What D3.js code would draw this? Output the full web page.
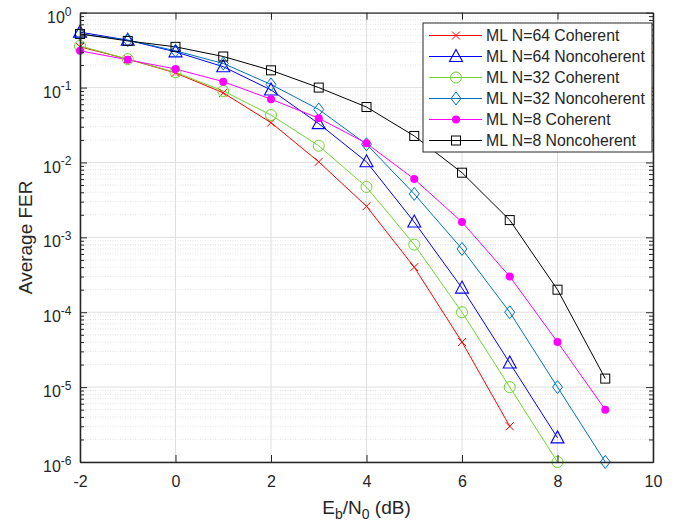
<!DOCTYPE html>
<html>
<head>
<meta charset="utf-8">
<script src="https://cdn.jsdelivr.net/npm/d3@7"></script>
<style>
  body { margin: 0; background: #fff; }
  svg { font-family: "Liberation Sans", Arial, sans-serif; }
</style>
</head>
<body>
<div id="chart"></div>
<script>
// Eb/N0 points and FER curves
const ebn0 = [-2, -1, 0, 1, 2, 3, 4, 5, 6, 7, 8, 9];

const n64Coherent    = [0.35, 0.24, 0.157, 0.085, 0.034, 0.0102, 0.0026, 4e-4, 4e-5, 3e-6];
const n64Noncoherent = [0.55, 0.43, 0.30, 0.19, 0.093, 0.033, 0.0102, 0.0016, 2.1e-4, 2.1e-5, 2.1e-6];
const n32Coherent    = [0.36, 0.24, 0.16, 0.09, 0.043, 0.0167, 0.0047, 8e-4, 1e-4, 1e-5, 1e-6];
const n32Noncoherent = [0.52, 0.43, 0.31, 0.21, 0.11, 0.051, 0.0175, 0.0038, 7e-4, 1e-4, 1e-5, 1e-6];
const n8Coherent     = [0.31, 0.235, 0.177, 0.12, 0.07, 0.039, 0.018, 0.006, 0.0016, 3e-4, 4e-5, 5e-6];
const n8Noncoherent  = [0.52, 0.42, 0.35, 0.26, 0.17, 0.10, 0.055, 0.0226, 0.0073, 0.0017, 2e-4, 1.3e-5];

const seriesNames = ["ML N=64 Coherent", "ML N=64 Noncoherent", "ML N=32 Coherent",
                     "ML N=32 Noncoherent", "ML N=8 Coherent", "ML N=8 Noncoherent"];
const seriesValues = [n64Coherent, n64Noncoherent, n32Coherent, n32Noncoherent, n8Coherent, n8Noncoherent];
const seriesColors = ["#ff0000", "#0000ff", "#6fd62e", "#0072bd", "#ff00ff", "#000000"];
const seriesMarkers = ["cross", "triangle", "circle", "diamond", "dot", "square"];

const xTicks = [-2, 0, 2, 4, 6, 8, 10];
const yExponents = [0, -1, -2, -3, -4, -5, -6];

const W = 689, H = 522;
const margin = { top: 12.7, right: 36, bottom: 60, left: 80 };
const width = W - margin.left - margin.right;
const height = H - margin.top - margin.bottom;
const axisColor = "#262626";

const svg = d3.select("#chart").append("svg")
    .attr("width", W)
    .attr("height", H);

const g = svg.append("g")
    .attr("transform", "translate(" + margin.left + "," + margin.top + ")");

const x = d3.scaleLinear().domain([-2, 10]).range([0, width]);
const y = d3.scaleLog().domain([1e-6, 1]).range([height, 0]);

// minor y values 2..9 x 10^k
let minorY = [];
for (let k = -6; k < 0; k++) {
    for (let m = 2; m <= 9; m++) minorY.push(m * Math.pow(10, k));
}

// grid
g.append("g").selectAll("line.minor")
    .data(minorY).enter().append("line")
    .attr("x1", 0).attr("x2", width)
    .attr("y1", d => y(d)).attr("y2", d => y(d))
    .attr("stroke", "#d9d9d9")
    .attr("stroke-width", 0.8)
    .attr("stroke-dasharray", "1,1.5");

g.append("g").selectAll("line.majy")
    .data(yExponents).enter().append("line")
    .attr("x1", 0).attr("x2", width)
    .attr("y1", d => y(Math.pow(10, d))).attr("y2", d => y(Math.pow(10, d)))
    .attr("stroke", "#dedede")
    .attr("stroke-width", 1);

g.append("g").selectAll("line.majx")
    .data(xTicks).enter().append("line")
    .attr("x1", d => x(d)).attr("x2", d => x(d))
    .attr("y1", 0).attr("y2", height)
    .attr("stroke", "#dedede")
    .attr("stroke-width", 1);

// series lines
const line = d3.line()
    .x((d, i) => x(ebn0[i]))
    .y(d => y(d));

seriesValues.forEach((vals, s) => {
    g.append("path")
        .datum(vals)
        .attr("d", line)
        .attr("fill", "none")
        .attr("stroke", seriesColors[s])
        .attr("stroke-width", 1);
});

function drawMarker(sel, type, color, cx, cy) {
    if (type === "cross") {
        sel.append("path")
            .attr("d", `M${cx - 4},${cy - 4}L${cx + 4},${cy + 4}M${cx - 4},${cy + 4}L${cx + 4},${cy - 4}`)
            .attr("stroke", color).attr("stroke-width", 1).attr("fill", "none");
    } else if (type === "triangle") {
        sel.append("path")
            .attr("d", `M${cx},${cy - 7}L${cx + 6.5},${cy + 5}L${cx - 6.5},${cy + 5}Z`)
            .attr("stroke", color).attr("stroke-width", 1.1).attr("fill", "none");
    } else if (type === "circle") {
        sel.append("circle")
            .attr("cx", cx).attr("cy", cy).attr("r", 5.5)
            .attr("stroke", color).attr("stroke-width", 1).attr("fill", "none");
    } else if (type === "diamond") {
        sel.append("path")
            .attr("d", `M${cx},${cy - 6.5}L${cx + 5},${cy}L${cx},${cy + 6.5}L${cx - 5},${cy}Z`)
            .attr("stroke", color).attr("stroke-width", 1).attr("fill", "none");
    } else if (type === "dot") {
        sel.append("circle")
            .attr("cx", cx).attr("cy", cy).attr("r", 4)
            .attr("fill", color);
    } else if (type === "square") {
        sel.append("rect")
            .attr("x", cx - 4.5).attr("y", cy - 4.5)
            .attr("width", 9).attr("height", 9)
            .attr("stroke", color).attr("stroke-width", 1).attr("fill", "none");
    }
}

seriesValues.forEach((vals, s) => {
    const mg = g.append("g");
    vals.forEach((v, i) => drawMarker(mg, seriesMarkers[s], seriesColors[s], x(ebn0[i]), y(v)));
});

// axes (ticks inside, box on all sides)
const xAxisBottom = d3.axisBottom(x).tickValues(xTicks).tickSizeInner(-7).tickSizeOuter(0)
    .tickPadding(14).tickFormat(d => String(d));
const xAxisTop = d3.axisTop(x).tickValues(xTicks).tickSizeInner(-7).tickSizeOuter(0).tickFormat("");
const yMajor = yExponents.map(e => Math.pow(10, e));
const yAxisLeft = d3.axisLeft(y).tickValues(yMajor).tickSizeInner(-7).tickSizeOuter(0).tickFormat("");
const yAxisRight = d3.axisRight(y).tickValues(yMajor).tickSizeInner(-7).tickSizeOuter(0).tickFormat("");
const yMinorLeft = d3.axisLeft(y).tickValues(minorY).tickSizeInner(-4).tickSizeOuter(0).tickFormat("");
const yMinorRight = d3.axisRight(y).tickValues(minorY).tickSizeInner(-4).tickSizeOuter(0).tickFormat("");

const gxb = g.append("g").attr("transform", "translate(0," + height + ")").call(xAxisBottom);
g.append("g").call(xAxisTop);
const gyl = g.append("g").call(yAxisLeft);
g.append("g").attr("transform", "translate(" + width + ",0)").call(yAxisRight);
g.append("g").call(yMinorLeft);
g.append("g").attr("transform", "translate(" + width + ",0)").call(yMinorRight);

g.selectAll(".domain").attr("stroke", axisColor).attr("stroke-width", 1.3);
g.selectAll(".tick line").attr("stroke", axisColor).attr("stroke-width", 1);

gxb.selectAll("text")
    .attr("fill", axisColor)
    .style("font-size", "16px")
    .attr("font-family", null);

// y tick labels 10^k
gyl.selectAll(".tick").each(function(d) {
    const e = Math.round(Math.log10(d));
    const t = d3.select(this).append("text")
        .attr("x", -8.5)
        .attr("y", 9.6)
        .attr("text-anchor", "end")
        .attr("fill", axisColor)
        .style("font-size", "16px");
    t.append("tspan").text("10");
    t.append("tspan").attr("dy", -7.3).style("font-size", "12px").text(String(e));
});

// axis labels
const xl = svg.append("text")
    .attr("x", margin.left + width / 2)
    .attr("y", 514)
    .attr("text-anchor", "middle")
    .attr("fill", axisColor)
    .style("font-size", "19px");
xl.append("tspan").text("E");
xl.append("tspan").attr("dy", 5).style("font-size", "14px").text("b");
xl.append("tspan").attr("dy", -5).text("/N");
xl.append("tspan").attr("dy", 5).style("font-size", "14px").text("0");
xl.append("tspan").attr("dy", -5).text(" (dB)");

svg.append("text")
    .attr("transform", "translate(32," + (margin.top + height / 2) + ") rotate(-90)")
    .attr("text-anchor", "middle")
    .attr("fill", axisColor)
    .style("font-size", "19px")
    .text("Average FER");

// legend
const lg = svg.append("g").attr("transform", "translate(423,23)");
lg.append("rect")
    .attr("width", 229).attr("height", 129)
    .attr("fill", "#fff")
    .attr("stroke", axisColor)
    .attr("stroke-width", 1);

seriesNames.forEach((name, s) => {
    const ry = 12.5 + s * 21;
    lg.append("line")
        .attr("x1", 6).attr("x2", 59)
        .attr("y1", ry).attr("y2", ry)
        .attr("stroke", seriesColors[s])
        .attr("stroke-width", 1);
    drawMarker(lg, seriesMarkers[s], seriesColors[s], 33, ry);
    lg.append("text")
        .attr("x", 63)
        .attr("y", ry + 5.5)
        .attr("fill", axisColor)
        .style("font-size", "15.8px")
        .text(name);
});
</script>
</body>
</html>
